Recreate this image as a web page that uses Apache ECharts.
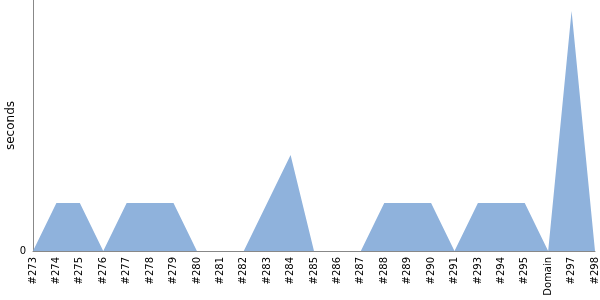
<!DOCTYPE html>
<html><head><meta charset="utf-8">
<script src="https://cdn.jsdelivr.net/npm/echarts@6/dist/echarts.min.js"></script>
<style>html,body{margin:0;padding:0;background:#fff}#c{width:600px;height:300px}</style>
</head><body><div id="c"></div>
<script>
const categories = ['#273','#274','#275','#276','#277','#278','#279','#280','#281','#282','#283','#284','#285','#286','#287','#288','#289','#290','#291','#293','#294','#295','Domain','#297','#298'];
const seconds = [0,1,1,0,1,1,1,0,0,0,1,2,0,0,0,1,1,1,0,1,1,1,0,5,0];
const yTicks = [0];

const chart = echarts.init(document.getElementById('c'), null, {renderer:'canvas'});
chart.setOption({
  animation:false,
  grid:{left:33, right:5, top:0, bottom:49, containLabel:false, outerBoundsMode:'none'},
  xAxis:{type:'category', data:categories, boundaryGap:false,
    axisLine:{lineStyle:{color:'#888', width:1}},
    axisTick:{show:false},
    axisLabel:{rotate:90, interval:0, color:'#000', fontFamily:'DejaVu Sans', fontSize:10, margin:6},
    splitLine:{show:false}},
  yAxis:{type:'value', min:0, max:5.23, interval:5.23,
    name:'seconds', nameLocation:'middle', nameGap:16, nameRotate:90, nameMoveOverlap:false,
    nameTextStyle:{color:'#000', fontFamily:'DejaVu Sans', fontSize:12},
    axisLine:{show:true, lineStyle:{color:'#888', width:1}},
    axisTick:{show:false},
    splitLine:{show:false},
    axisLabel:{color:'#000', fontFamily:'DejaVu Sans', fontSize:10, margin:7,
      formatter:v => yTicks.includes(v) ? String(v) : ''}},
  series:[{type:'line', data:seconds, symbol:'none',
    lineStyle:{width:0, color:'#8fb2dc'},
    areaStyle:{color:'#8fb2dc', opacity:1}}]
});
</script></body></html>
